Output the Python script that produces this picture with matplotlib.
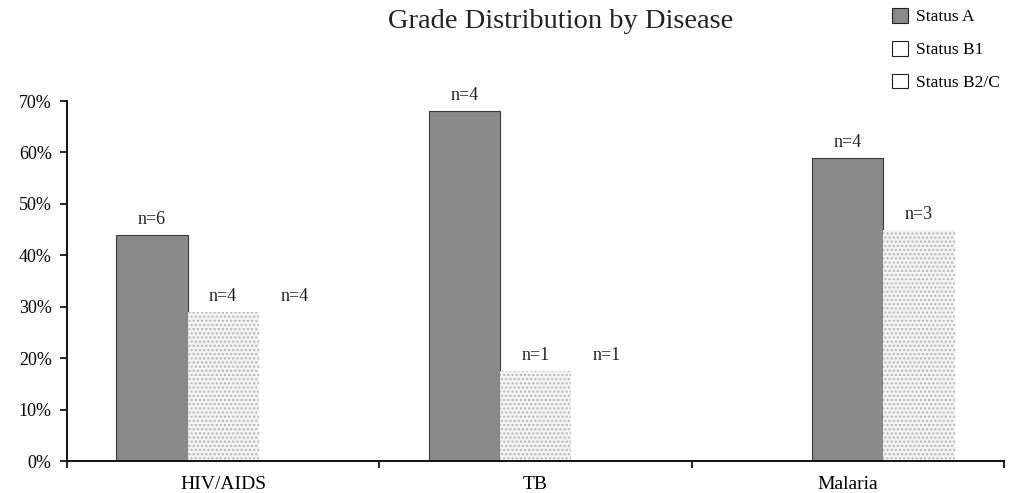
import matplotlib
matplotlib.use("Agg")
import matplotlib.pyplot as plt
from matplotlib.patches import Patch
import numpy as np

plt.rcParams['font.family'] = ['Liberation Serif', 'DejaVu Serif']

categories = ["HIV/AIDS", "TB", "Malaria"]
series_names = ["Status A", "Status B1", "Status B2/C"]
status_a = [44, 68, 59]
status_b1 = [29, 17.5, 45]
status_b2c = [29, 17.5, 0]
labels_a = ["n=6", "n=4", "n=4"]
labels_b1 = ["n=4", "n=1", "n=3"]
labels_b2c = ["n=4", "n=1", ""]
# slot of each series within each category group (Malaria leaves first slot empty)
slots = {"Status A": [0, 0, 1], "Status B1": [1, 1, 2], "Status B2/C": [2, 2, 0]}
y_ticks = [0, 10, 20, 30, 40, 50, 60, 70]
title = "Grade Distribution by Disease"

values = {"Status A": status_a, "Status B1": status_b1, "Status B2/C": status_b2c}
labels = {"Status A": labels_a, "Status B1": labels_b1, "Status B2/C": labels_b2c}
styles = {
    "Status A": dict(facecolor="#8a8a8a", edgecolor="#3a3a3a", linewidth=0.8, hatch=None),
    "Status B1": dict(facecolor="#f4f4f4", edgecolor="#b5b5b5", linewidth=0, hatch="...."),
    "Status B2/C": dict(facecolor="white", edgecolor="white", linewidth=0, hatch=None),
}

fig = plt.figure(figsize=(10.14, 4.93), dpi=100)
ax = fig.add_axes([67/1014, 1-461/493, (1004-67)/1014, (461-101)/493])

width = 0.228
x = np.arange(len(categories))
for name in series_names:
    pos = x + (np.array(slots[name]) - 1) * width
    st = styles[name]
    bars = ax.bar(pos, values[name], width=width, facecolor=st["facecolor"],
                  edgecolor=st["edgecolor"], linewidth=st["linewidth"],
                  hatch=st["hatch"], zorder=2)
    for b, lab in zip(bars, labels[name]):
        if lab:
            ax.annotate(lab, (b.get_x() + b.get_width()/2, b.get_height()),
                        xytext=(0, 5), textcoords="offset points",
                        ha="center", va="bottom", fontsize=13, color="#222222")

ax.set_xlim(-0.5, len(categories) - 0.5)
ax.set_ylim(0, 70)
ax.set_yticks(y_ticks)
ax.set_yticklabels([f"{t}%" for t in y_ticks], fontsize=13)
ax.set_xticks(x)
ax.set_xticklabels(categories, fontsize=14)
ax.set_xticks(np.arange(-0.5, len(categories)), minor=True)
ax.tick_params(axis="x", which="major", length=0, pad=11)
ax.tick_params(axis="x", which="minor", length=5, width=1.2, direction="out")
ax.tick_params(axis="y", length=5, width=1.2, pad=6)
for s in ["top", "right"]:
    ax.spines[s].set_visible(False)
for s in ["left", "bottom"]:
    ax.spines[s].set_linewidth(1.4)
    ax.spines[s].set_color("#111111")

fig.text(561/1014, 1-28/493, title, ha="center", va="baseline", fontsize=20.5, color="#222222")

handles = [Patch(facecolor="#8a8a8a", edgecolor="#222222", linewidth=0.8),
           Patch(facecolor="white", edgecolor="#222222", linewidth=0.8),
           Patch(facecolor="white", edgecolor="#222222", linewidth=0.8)]
fig.legend(handles, series_names, loc="upper left", bbox_to_anchor=(892/1014, 1-8/493),
           frameon=False, fontsize=12.5, handlelength=0.92, handleheight=0.92,
           handletextpad=0.45, labelspacing=0.9, borderpad=0, borderaxespad=0)

fig.savefig("out.png", dpi=100)
